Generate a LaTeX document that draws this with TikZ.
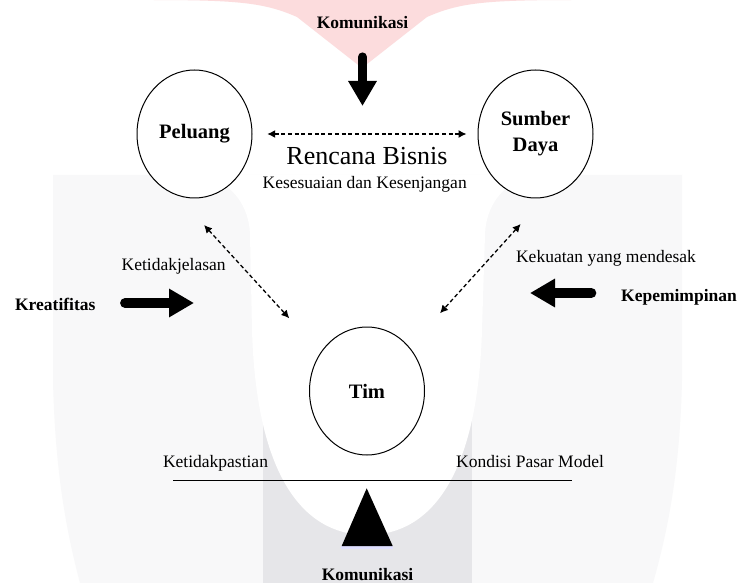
\documentclass[tikz,border=0pt]{standalone}
\usepackage{fontspec}
\setmainfont{Liberation Serif}
\usetikzlibrary{arrows.meta}
\usetikzlibrary{shapes.geometric}
\usetikzlibrary{positioning}

\definecolor{wmpink}{HTML}{FCDCDD}
\definecolor{wmlight}{HTML}{F8F8F9}
\definecolor{wmdark}{HTML}{E6E6E9}

\begin{document}
\begin{tikzpicture}[x=1pt, y=-1pt, font=\fontsize{17.5}{21}\selectfont]
  \tikzstyle{circ}=[ellipse, draw=black, line width=1pt, fill=white, minimum width=115pt, minimum height=128pt, inner sep=0pt, align=center, font=\fontsize{20.5}{26}\selectfont\bfseries]
  \tikzstyle{lbl}=[anchor=base, inner sep=0pt]
  \tikzstyle{blbl}=[lbl, font=\fontsize{17.5}{21}\selectfont\bfseries]
  \tikzstyle{link}=[dash pattern=on 4pt off 2.7pt, line width=1.3pt, {Latex[length=8pt,width=8pt]}-{Latex[length=8pt,width=8pt]}]
  \tikzstyle{fat}=[line width=10pt, line cap=round, -{Triangle[length=25pt,width=27pt]}]

  % watermark
  \fill[white] (0,0) rectangle (737,583);
  \fill[wmpink] (150,0) .. controls (240,0) and (265,3) .. (297,17) -- (362,68) -- (427,17) .. controls (459,3) and (484,0) .. (575,0) -- cycle;
  \fill[wmlight] (53,175) -- (682,175) -- (682,380) .. controls (680,470) and (668,530) .. (653,583) -- (80,583) .. controls (66,530) and (55,470) .. (53,380) -- cycle;
  \fill[wmdark] (263,330) rectangle (472,583);
  \fill[white] (190,175) .. controls (225,175) and (249,200) .. (250,235) -- (252,330) .. controls (256,470) and (300,535) .. (367,535) .. controls (434,535) and (478,470) .. (482,330) -- (485,235) .. controls (486,200) and (510,175) .. (545,175) -- cycle;
  \useasboundingbox (0,0) rectangle (737,583);

  \node (peluang) [circ] at (194.5,134) {Peluang};
  \node (sumber) [circ, right=225pt of peluang] {Sumber\\Daya};
  \node (tim) [circ] at (367,391) {Tim};

  \node (komtop) [blbl] at (362.5,28.5) {Komunikasi};
  \node (rencana) [lbl, font=\fontsize{26}{30}\selectfont] at (367,165) {Rencana Bisnis};
  \node (sesuai) [lbl] at (364.7,189) {Kesesuaian dan Kesenjangan};
  \node (jelas) [lbl] at (173.7,270) {Ketidakjelasan};
  \node (kreatif) [blbl] at (55.3,310) {Kreatifitas};
  \node (kuat) [lbl] at (606,262.3) {Kekuatan yang mendesak};
  \node (pimpin) [blbl] at (679,301.7) {Kepemimpinan};
  \node (pasti) [lbl] at (215.5,467.3) {Ketidakpastian};
  \node (pasar) [lbl] at (530,467.3) {Kondisi Pasar Model};
  \node (kombawah) [blbl] at (367.5,580) {Komunikasi};

  \coordinate (komtip) at (362.5,106);
  \coordinate (kreatiftip) at (194,303);
  \coordinate (pimpintip) at (530,293);
  \coordinate (jelas-a) at (204,225);
  \coordinate (jelas-b) at (289.3,318.3);
  \coordinate (kuat-a) at (520.7,224);
  \coordinate (kuat-b) at (440,313.3);
  \coordinate (tumpu) at (366.7,488.3);

  \draw[fat, line width=9pt, shorten <=28pt] (komtop.south) -- (komtip);
  \draw[fat, shorten <=29.4pt] (kreatif.east |- kreatiftip) -- (kreatiftip);
  \draw[fat, shorten <=29.6pt] (pimpin.west |- pimpintip) -- (pimpintip);

  \draw[link, shorten <=14.7pt, shorten >=11pt] (peluang.east) -- (sumber.west);
  \draw[link] (jelas-a) -- (jelas-b);
  \draw[link] (kuat-a) -- (kuat-b);

  % neraca
  \draw[line width=1.5pt] (173.3,480.7) -- (571.7,480.7);
  \fill[blue!12] (341,546) rectangle (393,548.5);
  \fill[black] (tumpu) -- ++(26,57.7) -- ++(-51,0) -- cycle;
\end{tikzpicture}
\end{document}
